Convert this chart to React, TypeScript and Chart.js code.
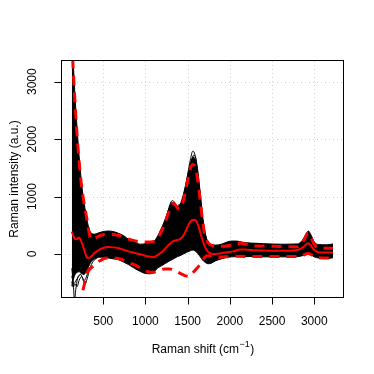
import React, { useEffect, useRef } from "react";
import { Chart, registerables } from "chart.js";

Chart.register(...registerables);

// ---- axis ticks ----
const xTicks = [500, 1000, 1500, 2000, 2500, 3000];
const yTicks = [0, 1000, 2000, 3000];
const xTitle = "Raman shift (cm";
const xTitleSup = "\u22121";
const yTitle = "Raman intensity (a.u.)";

// ---- envelope of the bundle of black spectra ----
const bandShift = [128, 140, 155, 170, 190, 215, 240, 270, 300, 330, 360, 400, 450, 500, 560, 620, 680, 740, 800, 870, 940, 1000, 1060, 1100, 1140, 1180, 1230, 1280, 1320, 1350, 1380, 1410, 1450, 1490, 1530, 1565, 1590, 1620, 1650, 1680, 1710, 1740, 1780, 1830, 1900, 1960, 2020, 2080, 2150, 2250, 2400, 2600, 2800, 2860, 2900, 2930, 2960, 3000, 3050, 3150, 3222];
const bandUpper = [3900, 3500, 3050, 2650, 2200, 1700, 1280, 930, 660, 450, 360, 345, 370, 390, 400, 390, 360, 320, 255, 215, 170, 180, 200, 220, 300, 420, 590, 790, 890, 870, 820, 860, 1040, 1300, 1560, 1690, 1640, 1400, 1000, 610, 340, 210, 165, 155, 170, 205, 225, 225, 205, 190, 180, 170, 175, 240, 340, 400, 335, 210, 165, 160, 175];
const bandLower = [-560, -480, -400, -350, -320, -310, -330, -360, -300, -210, -130, -80, -55, -55, -70, -85, -100, -140, -185, -250, -305, -340, -345, -320, -250, -215, -170, -125, -95, -70, -45, -30, 0, 30, 55, 70, 50, 10, -50, -110, -150, -170, -160, -120, -85, -60, -50, -45, -45, -45, -50, -50, -45, -30, -5, 5, -15, -50, -70, -80, -65];

// ---- individual outlying black spectra ----
const peakAShift = [1150, 1200, 1250, 1290, 1320, 1345, 1370, 1395, 1425, 1460, 1500, 1535, 1560, 1580, 1600, 1630, 1660, 1700, 1740];
const peakAValues = [240, 400, 640, 860, 930, 900, 820, 860, 880, 1060, 1380, 1660, 1790, 1760, 1620, 1250, 800, 350, 200];
const peakBShift = [1180, 1230, 1280, 1315, 1340, 1365, 1390, 1420, 1460, 1500, 1540, 1570, 1590, 1620, 1650, 1690, 1730];
const peakBValues = [380, 560, 800, 900, 880, 800, 830, 850, 1000, 1300, 1580, 1720, 1700, 1450, 1050, 500, 230];
const lowAShift = [128, 145, 160, 175, 195, 220, 250, 280, 320, 370];
const lowAValues = [-250, -500, -800, -620, -430, -360, -340, -280, -180, -90];
const lowBShift = [128, 150, 175, 205, 235, 260, 285, 310, 340, 380, 430];
const lowBValues = [-380, -520, -470, -400, -360, -450, -520, -430, -260, -130, -70];
const lowCShift = [128, 145, 165, 190, 215, 245, 275, 300, 335];
const lowCValues = [-480, -580, -520, -570, -460, -390, -460, -400, -230];

// ---- red summary lines ----
const meanShift = [128, 155, 185, 215, 240, 265, 290, 315, 345, 400, 450, 500, 560, 620, 680, 740, 800, 880, 960, 1040, 1100, 1150, 1200, 1250, 1290, 1330, 1370, 1410, 1450, 1490, 1530, 1580, 1620, 1660, 1700, 1740, 1780, 1830, 1890, 1960, 2040, 2120, 2200, 2300, 2450, 2650, 2800, 2860, 2900, 2930, 2960, 3000, 3040, 3100, 3222];
const meanValues = [390, 285, 255, 285, 220, 120, 0, -70, -60, 20, 70, 105, 120, 115, 100, 75, 45, 15, -15, -45, -55, -10, 40, 120, 180, 225, 240, 260, 320, 440, 560, 595, 520, 320, 140, 40, 5, 0, 10, 30, 45, 80, 75, 65, 58, 58, 70, 110, 160, 185, 140, 70, 35, 25, 25];

const upperShift = [128, 145, 160, 180, 205, 233, 265, 305, 343, 370, 410, 460, 520, 580, 640, 700, 760, 830, 900, 980, 1060, 1110, 1160, 1210, 1260, 1310, 1340, 1370, 1400, 1440, 1480, 1520, 1555, 1585, 1615, 1645, 1675, 1705, 1740, 1790, 1860, 1930, 2000, 2060, 2120, 2200, 2280, 2400, 2550, 2700, 2800, 2850, 2890, 2925, 2955, 2990, 3030, 3100, 3222];
const upperValues = [3700, 3200, 2800, 2300, 1780, 1320, 960, 620, 300, 250, 280, 320, 345, 345, 335, 320, 285, 245, 220, 210, 210, 225, 310, 460, 660, 850, 880, 820, 780, 880, 1130, 1420, 1560, 1540, 1330, 980, 600, 330, 200, 150, 135, 135, 150, 175, 185, 170, 140, 138, 133, 128, 125, 180, 280, 370, 310, 190, 120, 100, 100];

const lowerShift = [128, 200, 245, 275, 310, 360, 410, 460, 520, 580, 650, 720, 800, 880, 960, 1030, 1090, 1160, 1230, 1290, 1360, 1430, 1475, 1515, 1560, 1610, 1660, 1700, 1740, 1790, 1850, 1950, 2100, 2300, 2500, 2700, 2850, 2900, 2930, 2960, 3000, 3050, 3150, 3222];
const lowerValues = [-1800, -1100, -720, -540, -330, -240, -180, -120, -75, -70, -75, -95, -150, -195, -260, -310, -320, -290, -260, -260, -300, -350, -380, -395, -330, -250, -160, -60, -30, -35, -60, -50, -40, -45, -45, -45, -35, 0, 10, -10, -50, -65, -70, -60];

const FONT = '"Liberation Sans", Arial, Helvetica, sans-serif';

function pts(xs: number[], ys: number[]) {
  return xs.map((x, i) => ({ x, y: ys[i] }));
}

const decorPlugin = {
  id: "rDecor",
  beforeDatasetsDraw(chart: any) {
    const { ctx, chartArea: a, scales } = chart;
    ctx.save();
    ctx.strokeStyle = "#d3d3d3";
    ctx.lineWidth = 1;
    ctx.setLineDash([1, 3]);
    ctx.beginPath();
    for (const v of xTicks) {
      const p = Math.round(scales.x.getPixelForValue(v)) + 0.5;
      ctx.moveTo(p, a.top);
      ctx.lineTo(p, a.bottom);
    }
    for (const v of yTicks) {
      const p = Math.round(scales.y.getPixelForValue(v)) + 0.5;
      ctx.moveTo(a.left, p);
      ctx.lineTo(a.right, p);
    }
    ctx.stroke();
    ctx.restore();
  },
  afterDraw(chart: any) {
    const { ctx, chartArea: a, scales } = chart;
    const L = a.left + 0.5;
    const T = a.top - 0.5;
    const R = a.right - 0.5;
    const B = a.bottom + 0.5;
    ctx.save();
    ctx.setLineDash([]);
    ctx.strokeStyle = "#000";
    ctx.lineWidth = 1;
    ctx.strokeRect(L, T, R - L, B - T);
    ctx.beginPath();
    for (const v of xTicks) {
      const p = Math.round(scales.x.getPixelForValue(v)) + 0.5;
      ctx.moveTo(p, B);
      ctx.lineTo(p, B + 7);
    }
    for (const v of yTicks) {
      const p = Math.round(scales.y.getPixelForValue(v)) + 0.5;
      ctx.moveTo(L, p);
      ctx.lineTo(L - 7, p);
    }
    ctx.stroke();

    ctx.fillStyle = "#000";
    ctx.font = `12px ${FONT}`;
    ctx.textAlign = "center";
    ctx.textBaseline = "alphabetic";
    for (const v of xTicks) {
      ctx.fillText(String(v), scales.x.getPixelForValue(v), 325);
    }
    for (const v of yTicks) {
      ctx.save();
      ctx.translate(36, scales.y.getPixelForValue(v));
      ctx.rotate(-Math.PI / 2);
      ctx.fillText(String(v), 0, 0);
      ctx.restore();
    }

    // y title
    ctx.save();
    ctx.translate(17.5, (a.top + a.bottom) / 2);
    ctx.rotate(-Math.PI / 2);
    ctx.fillText(yTitle, 0, 0);
    ctx.restore();

    // x title with superscript
    const cx = (a.left + a.right) / 2;
    ctx.font = `12px ${FONT}`;
    const w1 = ctx.measureText(xTitle).width;
    const w3 = ctx.measureText(")").width;
    ctx.font = `9px ${FONT}`;
    const w2 = ctx.measureText(xTitleSup).width;
    let x0 = cx - (w1 + w2 + w3) / 2;
    ctx.textAlign = "left";
    ctx.font = `12px ${FONT}`;
    ctx.fillText(xTitle, x0, 353);
    ctx.font = `9px ${FONT}`;
    ctx.fillText(xTitleSup, x0 + w1 + 0.5, 347);
    ctx.font = `12px ${FONT}`;
    ctx.fillText(")", x0 + w1 + w2 + 1, 353);
    ctx.restore();
  },
};

export default function App() {
  const ref = useRef<HTMLCanvasElement | null>(null);

  useEffect(() => {
    if (!ref.current) return;
    const common = {
      pointRadius: 0,
      pointHoverRadius: 0,
      cubicInterpolationMode: "monotone" as const,
      clip: 0,
    };
    const thin = (xs: number[], ys: number[]) => ({
      ...common,
      data: pts(xs, ys),
      borderColor: "#000",
      borderWidth: 1,
      fill: false,
      order: 4,
    });
    const chart = new Chart(ref.current, {
      type: "line",
      data: {
        datasets: [
          {
            ...common,
            data: pts(bandShift, bandUpper),
            borderColor: "#000",
            backgroundColor: "#000",
            borderWidth: 1,
            fill: false,
            order: 5,
          },
          {
            ...common,
            data: pts(bandShift, bandLower),
            borderColor: "#000",
            backgroundColor: "#000",
            borderWidth: 1,
            fill: "-1",
            order: 5,
          },
          thin(peakAShift, peakAValues),
          thin(peakBShift, peakBValues),
          thin(lowAShift, lowAValues),
          thin(lowBShift, lowBValues),
          thin(lowCShift, lowCValues),
          {
            ...common,
            data: pts(meanShift, meanValues),
            borderColor: "#ff0000",
            borderWidth: 2,
            fill: false,
            order: 1,
          },
          {
            ...common,
            data: pts(upperShift, upperValues),
            borderColor: "#ff0000",
            borderWidth: 3,
            borderDash: [10, 7],
            fill: false,
            order: 0,
          },
          {
            ...common,
            data: pts(lowerShift, lowerValues),
            borderColor: "#ff0000",
            borderWidth: 3,
            borderDash: [10, 7],
            fill: false,
            order: 0,
          },
        ],
      },
      options: {
        animation: false,
        responsive: false,
        maintainAspectRatio: false,
        events: [],
        layout: { padding: { left: 61, top: 61, right: 30, bottom: 77 } },
        scales: {
          x: { type: "linear", display: false, min: 0, max: 3352 },
          y: { type: "linear", display: false, min: -749, max: 3360 },
        },
        plugins: {
          legend: { display: false },
          tooltip: { enabled: false },
        },
      },
      plugins: [decorPlugin],
    } as any);
    return () => chart.destroy();
  }, []);

  return (
    <div
      style={{
        position: "fixed",
        left: 0,
        top: 0,
        width: 374,
        height: 374,
        background: "#fff",
      }}
    >
      <canvas
        ref={ref}
        width={374}
        height={374}
        style={{ display: "block", width: 374, height: 374 }}
      />
    </div>
  );
}
